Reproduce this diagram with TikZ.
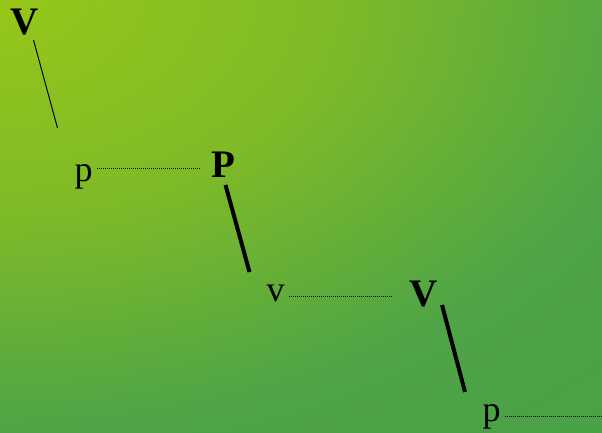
\documentclass[tikz,border=0pt]{standalone}
\usepackage{fontspec}
\setmainfont{Liberation Serif}
\definecolor{bgA}{RGB}{150,199,24}
\definecolor{bgB}{RGB}{126,186,40}
\definecolor{bgC}{RGB}{78,164,70}
\definecolor{bgD}{RGB}{66,157,72}
\pgfdeclareradialshading{bgshade}{\pgfpoint{0bp}{0bp}}{color(0bp)=(bgA); color(6.25bp)=(bgB); color(12.5bp)=(bgC); color(25bp)=(bgD); color(50bp)=(bgD)}
\tikzset{
  boldlbl/.style={anchor=base, inner sep=0pt, font=\fontsize{39}{41}\selectfont\bfseries},
  reglbl/.style={anchor=base, inner sep=0pt, font=\fontsize{36}{38}\selectfont},
  thinline/.style={line width=1pt},
  thickline/.style={line width=4pt},
  dotline/.style={line width=0.9pt, dash pattern=on 0.9pt off 1.1pt},
}
\begin{document}
\begin{tikzpicture}[x=1pt,y=-1pt]
\useasboundingbox (0,0) rectangle (602,432);
\begin{scope}
\clip (0,0) rectangle (602,432);
\fill[bgD] (0,0) rectangle (602,432);
\shade[shading=bgshade] (0,0) ellipse [x radius=1340, y radius=860];
\end{scope}
% labels
\node[boldlbl] (V1) at (24.5,34.5) {V};
\node[reglbl]  (p1) at (83.5,181) {p};
\node[boldlbl] (P)  at (223,177) {P};
\node[reglbl]  (v)  at (275.5,301.5) {v};
\node[boldlbl] (V2) at (424,306) {V};
\node[reglbl]  (p2) at (491.5,421) {p};
% connector ends
\coordinate (V1s) at (33.5,40);
\coordinate (V1e) at (57.5,128);
\coordinate (p1s) at (97,168.5);
\coordinate (p1e) at (200,168.5);
\coordinate (Ps) at (225.5,185);
\coordinate (Pe) at (249.5,272);
\coordinate (vs) at (289,296.5);
\coordinate (ve) at (393,296.5);
\coordinate (V2s) at (442,305);
\coordinate (V2e) at (465,392);
\coordinate (p2s) at (505,416.5);
\coordinate (p2e) at (602,416.5);
% connectors
\draw[thinline] (V1s) -- (V1e);
\draw[dotline] (p1s) -- (p1e);
\draw[thickline] (Ps) -- (Pe);
\draw[dotline] (vs) -- (ve);
\draw[thickline] (V2s) -- (V2e);
\draw[dotline] (p2s) -- (p2e);
\end{tikzpicture}
\end{document}
